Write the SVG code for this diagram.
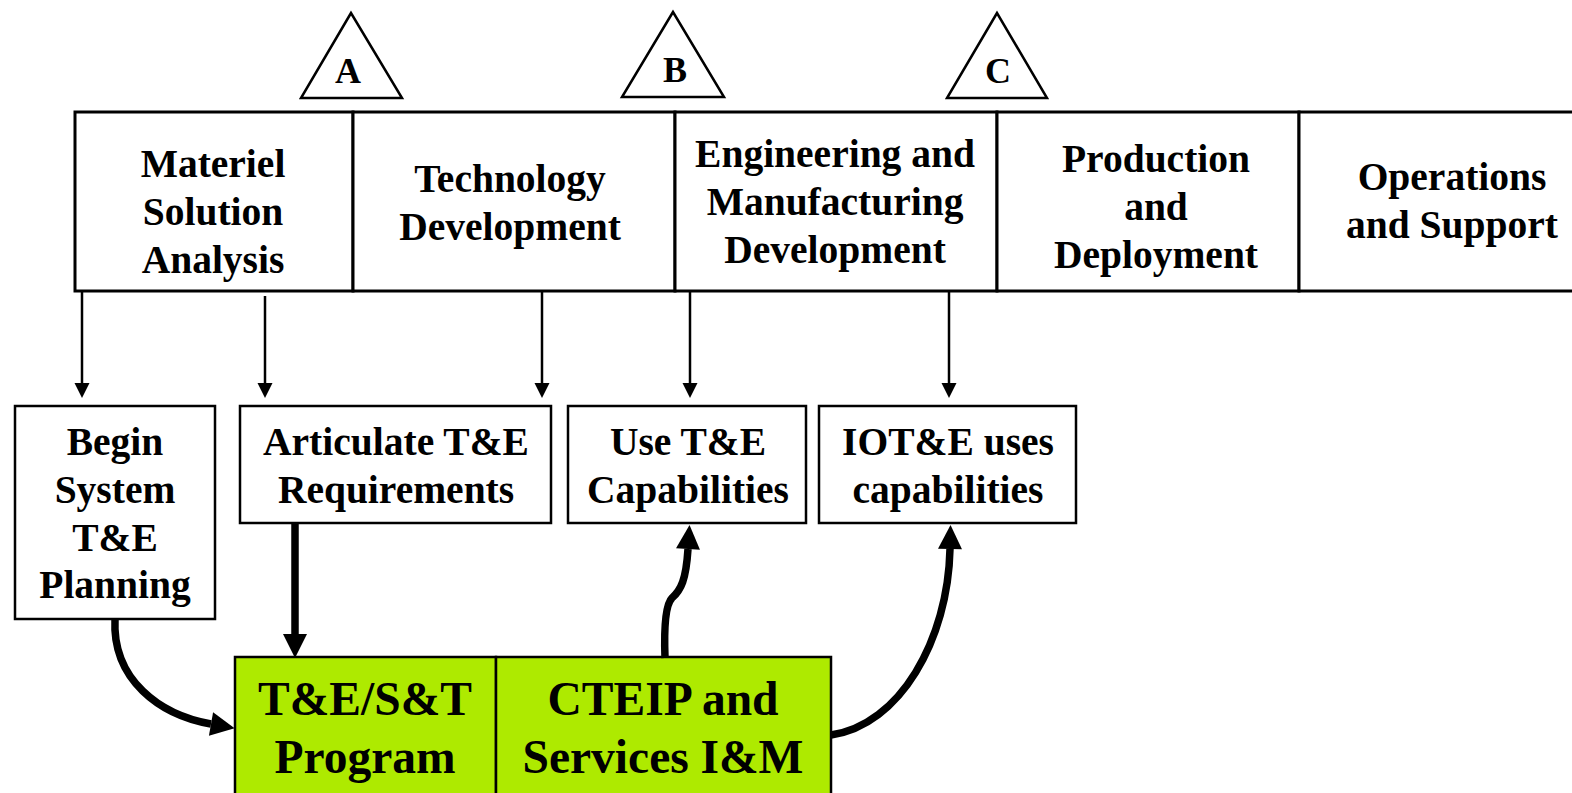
<svg xmlns="http://www.w3.org/2000/svg" width="1572" height="793" viewBox="0 0 1572 793">
<style>
.box{fill:#fff;stroke:#000;stroke-width:2.5}
.phase{fill:#fff;stroke:#000;stroke-width:3}
.green{fill:#AEEA00;stroke:#000;stroke-width:2.5}
.tri{fill:#fff;stroke:#000;stroke-width:2.5}
text{font-family:"Liberation Serif","Times New Roman",serif;font-weight:bold;fill:#000;text-anchor:middle}
.t39{font-size:39.5px}
.t47{font-size:47.5px}
.t36{font-size:36px}
.thin{fill:none;stroke:#000;stroke-width:2.5}
.thick{fill:none;stroke:#000;stroke-width:7.5}
</style>
<defs>
<marker id="ah" markerUnits="userSpaceOnUse" markerWidth="16" markerHeight="16" refX="0" refY="7.5" orient="auto" overflow="visible">
<path d="M0,0 L15,7.5 L0,15 z" fill="#000"/>
</marker>
<marker id="ahT" markerUnits="userSpaceOnUse" markerWidth="26" markerHeight="26" refX="0" refY="12" orient="auto" overflow="visible">
<path d="M0,0 L24,12 L0,24 z" fill="#000"/>
</marker>
</defs>

<g id="milestone-A"><polygon class="tri" points="351,13 301,98 402,98"/><text class="t36" x="348" y="83">A</text></g>
<g id="milestone-B"><polygon class="tri" points="673,12 622,97 724,97"/><text class="t36" x="675" y="82">B</text></g>
<g id="milestone-C"><polygon class="tri" points="997,13 947,98 1047,98"/><text class="t36" x="998" y="83">C</text></g>

<g id="phase-msa"><rect class="phase" x="75" y="112" width="278" height="179"/>
<text class="t39" x="213" y="177">Materiel</text><text class="t39" x="213" y="225">Solution</text><text class="t39" x="213" y="273">Analysis</text></g>
<g id="phase-td"><rect class="phase" x="353" y="112" width="322" height="179"/>
<text class="t39" x="510" y="192">Technology</text><text class="t39" x="510" y="240">Development</text></g>
<g id="phase-emd"><rect class="phase" x="675" y="112" width="322" height="179"/>
<text class="t39" x="835" y="167">Engineering and</text><text class="t39" x="835" y="215">Manufacturing</text><text class="t39" x="835" y="263">Development</text></g>
<g id="phase-pd"><rect class="phase" x="997" y="112" width="302" height="179"/>
<text class="t39" x="1156" y="172">Production</text><text class="t39" x="1156" y="220">and</text><text class="t39" x="1156" y="268">Deployment</text></g>
<g id="phase-os"><rect class="phase" x="1299" y="112" width="290" height="179"/>
<text class="t39" x="1452" y="190">Operations</text><text class="t39" x="1452" y="238">and Support</text></g>

<g id="begin"><rect class="box" x="15" y="406" width="200" height="213"/>
<text class="t39" x="115" y="455">Begin</text><text class="t39" x="115" y="503">System</text><text class="t39" x="115" y="551">T&amp;E</text><text class="t39" x="115" y="598">Planning</text></g>
<g id="articulate"><rect class="box" x="240" y="406" width="311" height="117"/>
<text class="t39" x="396" y="455">Articulate T&amp;E</text><text class="t39" x="396" y="503">Requirements</text></g>
<g id="use"><rect class="box" x="568" y="406" width="238" height="117"/>
<text class="t39" x="688" y="455">Use T&amp;E</text><text class="t39" x="688" y="503">Capabilities</text></g>
<g id="iote"><rect class="box" x="819" y="406" width="257" height="117"/>
<text class="t39" x="948" y="455">IOT&amp;E uses</text><text class="t39" x="948" y="503">capabilities</text></g>

<g id="tes-t"><rect class="green" x="235" y="657" width="261" height="150"/>
<text class="t47" x="365" y="715">T&amp;E/S&amp;T</text><text class="t47" x="365" y="773">Program</text></g>
<g id="cteip"><rect class="green" x="496" y="657" width="335" height="150"/>
<text class="t47" x="663" y="715">CTEIP and</text><text class="t47" x="663" y="773">Services I&amp;M</text></g>

<g id="connectors">
<line class="thin" x1="82" y1="291" x2="82" y2="383" marker-end="url(#ah)"/>
<line class="thin" x1="265" y1="296" x2="265" y2="383" marker-end="url(#ah)"/>
<line class="thin" x1="542" y1="291" x2="542" y2="383" marker-end="url(#ah)"/>
<line class="thin" x1="690" y1="291" x2="690" y2="383" marker-end="url(#ah)"/>
<line class="thin" x1="949" y1="291" x2="949" y2="383" marker-end="url(#ah)"/>
<line class="thick" x1="295" y1="523" x2="295" y2="634" marker-end="url(#ahT)"/>
<path class="thick" d="M115,619 C112,680 160,715 211,724" marker-end="url(#ahT)"/>
<path class="thick" d="M665,658 C664,630 665,605 672,598 C681,590 686,580 688,549" marker-end="url(#ahT)"/>
<path class="thick" d="M831,735 C900,725 948,640 950,549" marker-end="url(#ahT)"/>
</g>
</svg>
